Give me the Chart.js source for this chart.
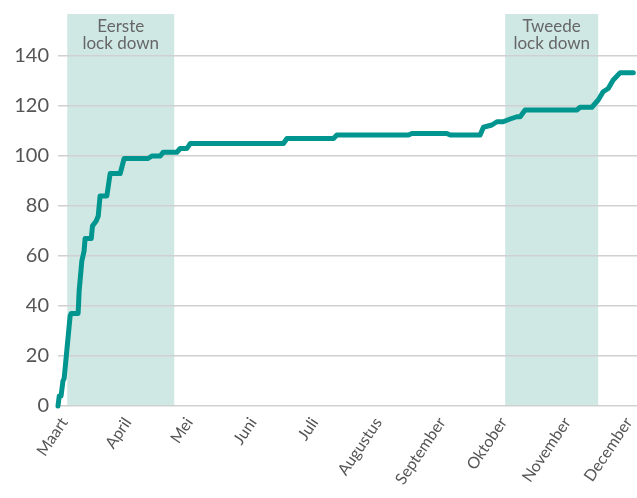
<!DOCTYPE html>
<html>
<head>
<meta charset="utf-8">
<script src="https://cdn.jsdelivr.net/npm/chart.js@4/dist/chart.umd.min.js"></script>
<style>
  html, body { margin: 0; padding: 0; background: #fff; }
  #wrap { width: 637px; height: 498px; }
</style>
</head>
<body>
<div id="wrap"><canvas id="chart"></canvas></div>
<script>
// days since 1 March, cumulative count
const days = [-3, -2.4, -1.5, -0.6, 0, 2.9, 3.4, 6.8, 7.3, 8.6, 9.7, 10.2, 13.2, 13.8, 15.6, 16.6,
    17.5, 20.8, 22.4, 27.3, 29.2, 40.9, 42.7, 46.8, 48.2, 54.9, 56.5, 59.8, 61.4, 106.8, 108.5,
    131.2, 132.8, 167.7, 169.4, 186.4, 188, 202.6, 204.2, 208.3, 210.8, 213.8, 217.2, 220.5,
    222.1, 224.5, 249.7, 251.3, 257, 260.1, 262.5, 265, 267.4, 270.8, 277.2];
const values = [0, 4, 4, 10, 11, 36, 37, 37, 46, 58, 62, 67, 67, 72, 74, 76,
    84, 84, 93, 93, 99, 99, 100, 100, 101.5, 101.5, 103, 103, 105, 105, 107,
    107, 108.4, 108.4, 109, 109, 108.4, 108.4, 111.5, 112.4, 113.7, 113.7, 114.8, 115.7,
    115.7, 118.4, 118.4, 119.5, 119.5, 122.4, 125.7, 127, 130.4, 133.3, 133.3];

const monthLabels = ['Maart', 'April', 'Mei', 'Juni', 'Juli', 'Augustus', 'September', 'Oktober', 'November', 'December'];
const monthDays = [0, 31, 61, 92, 122, 153, 184, 214, 245, 275];
const yTicks = [0, 20, 40, 60, 80, 100, 120, 140];

const lockdownStart = [1.5, 214.8];
const lockdownEnd = [53.6, 260.1];
const lockdownLabels = [['Eerste', 'lock down'], ['Tweede', 'lock down']];

const FONT = "Lato, 'Open Sans', sans-serif";

// lichtgroene banden voor de lockdowns, achter de rasterlijnen
const lockdownPlugin = {
    id: 'lockdowns',
    beforeDraw(chart) {
        const { ctx, chartArea, scales } = chart;
        ctx.save();
        ctx.fillStyle = '#cfe8e3';
        lockdownStart.forEach((s, i) => {
            const x1 = scales.x.getPixelForValue(s);
            const x2 = scales.x.getPixelForValue(lockdownEnd[i]);
            ctx.fillRect(x1, chartArea.top, x2 - x1, chartArea.bottom - chartArea.top);
        });
        ctx.restore();
    },
    afterDraw(chart) {
        const { ctx, chartArea, scales } = chart;
        ctx.save();
        ctx.fillStyle = '#666';
        ctx.font = '17px ' + FONT;
        ctx.textAlign = 'center';
        ctx.textBaseline = 'middle';
        lockdownStart.forEach((s, i) => {
            const cx = (scales.x.getPixelForValue(s) + scales.x.getPixelForValue(lockdownEnd[i])) / 2;
            lockdownLabels[i].forEach((line, j) => {
                ctx.fillText(line, cx, chartArea.top + 13 + j * 17);
            });
        });
        ctx.restore();
    }
};

new Chart(document.getElementById('chart'), {
    type: 'line',
    data: {
        datasets: [{
            data: days.map((d, i) => ({ x: d, y: values[i] })),
            borderColor: '#00968f',
            borderWidth: 5,
            pointRadius: 0,
            tension: 0,
            borderJoinStyle: 'round',
            borderCapStyle: 'round',
            clip: false
        }]
    },
    options: {
        responsive: true,
        maintainAspectRatio: false,
        animation: false,
        layout: { padding: { top: 14, right: 0, left: 0, bottom: 0 } },
        plugins: {
            legend: { display: false },
            tooltip: { enabled: false }
        },
        scales: {
            x: {
                type: 'linear',
                min: -3,
                max: 279,
                afterBuildTicks: (scale) => { scale.ticks = monthDays.map(v => ({ value: v })); },
                afterFit: (scale) => {
                    scale.height = 92;
                    scale.paddingLeft = 0;
                    scale.paddingRight = 0;
                },
                grid: { display: false, drawTicks: false },
                border: { display: false },
                ticks: {
                    autoSkip: false,
                    maxRotation: 56,
                    minRotation: 56,
                    padding: 8,
                    color: '#555',
                    font: { family: FONT, size: 16 },
                    callback: (v) => monthLabels[monthDays.indexOf(v)]
                }
            },
            y: {
                min: 0,
                max: 156.8,
                afterBuildTicks: (scale) => { scale.ticks = yTicks.map(v => ({ value: v })); },
                afterFit: (scale) => {
                    scale.width = 58;
                    scale.paddingTop = 0;
                    scale.paddingBottom = 0;
                },
                grid: { color: '#d0d0d0', lineWidth: 1.5, drawTicks: false },
                border: { display: false },
                ticks: {
                    padding: 9,
                    color: '#555',
                    font: { family: FONT, size: 20 }
                }
            }
        }
    },
    plugins: [lockdownPlugin]
});
</script>
</body>
</html>
